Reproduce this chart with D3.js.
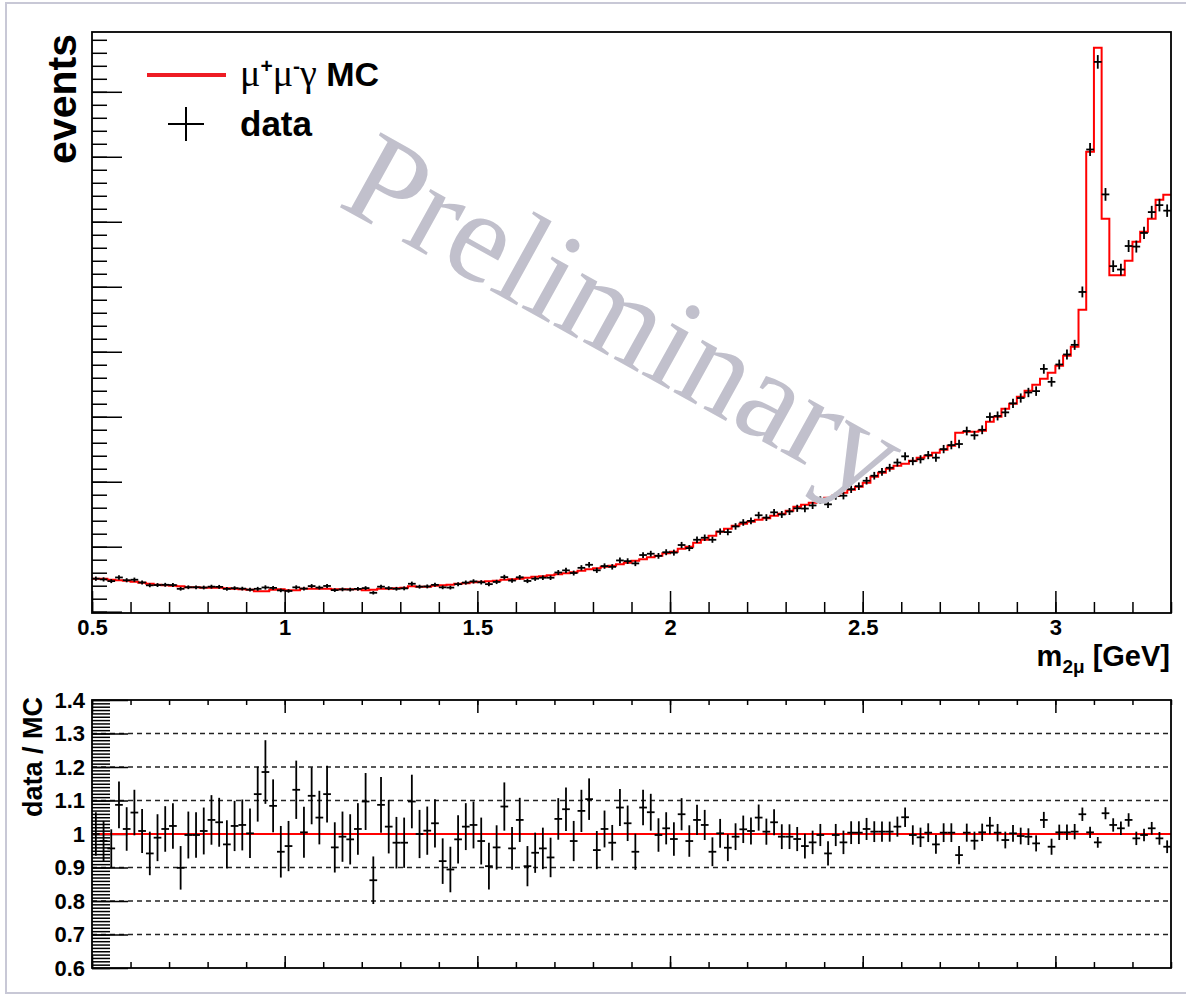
<!DOCTYPE html>
<html>
<head>
<meta charset="utf-8">
<script src="https://cdn.jsdelivr.net/npm/d3@7"></script>
<style>
  body { margin: 0; background: #fff; }
  text { font-family: "Liberation Sans", Arial, sans-serif; font-weight: bold; }
</style>
</head>
<body>
<script>
// m(2mu) histogram, 140 bins of 0.02 GeV from 0.5 to 3.3 GeV
var massRange = [0.5, 3.3];
var binWidth = 0.02;

var mcEvents = [
  508, 508, 492, 485, 477, 462, 446, 431, 415, 408,
  400, 392, 377, 377, 369, 369, 369, 362, 354, 346,
  338, 315, 315, 338, 346, 331, 331, 354, 354, 354,
  354, 346, 346, 346, 346, 331, 338, 354, 354, 362,
  369, 392, 385, 385, 400, 408, 415, 431, 438, 454,
  462, 469, 477, 492, 500, 508, 523, 538, 546, 562,
  577, 592, 608, 631, 654, 669, 692, 708, 731, 754,
  785, 808, 838, 862, 900, 923, 969, 1000, 1062, 1108,
  1169, 1231, 1277, 1323, 1354, 1385, 1415, 1438, 1477, 1508,
  1554, 1615, 1646, 1677, 1723, 1754, 1785, 1831, 1877, 1923,
  1985, 2077, 2138, 2200, 2246, 2277, 2323, 2369, 2400, 2446,
  2492, 2554, 2754, 2769, 2769, 2785, 2923, 3000, 3123, 3200,
  3308, 3400, 3492, 3585, 3677, 3785, 3938, 4077, 4646, 7077,
  8677, 6046, 5177, 5177, 5400, 5692, 5846, 6046, 6338, 6415
];

var dataEvents = [
  508, 497, 471, 527, 484, 492, 450, 406, 410, 414,
  410, 352, 376, 376, 372, 385, 382, 351, 362, 355,
  339, 352, 373, 366, 328, 319, 375, 356, 394, 371,
  396, 332, 343, 340, 351, 363, 291, 385, 362, 353,
  359, 430, 385, 389, 413, 375, 371, 424, 448, 466,
  452, 424, 458, 532, 479, 529, 473, 508, 523, 523,
  603, 636, 595, 675, 722, 637, 702, 690, 789, 778,
  743, 872, 892, 859, 915, 909, 1026, 979, 1107, 1138,
  1107, 1233, 1225, 1312, 1373, 1397, 1484, 1448, 1529, 1496,
  1542, 1591, 1587, 1635, 1718, 1652, 1780, 1785, 1885, 1931,
  2015, 2092, 2153, 2215, 2295, 2391, 2316, 2345, 2410, 2370,
  2502, 2564, 2580, 2780, 2714, 2799, 2996, 3012, 3067, 3206,
  3288, 3373, 3394, 3736, 3537, 3804, 3958, 4106, 4920, 7112,
  8460, 6421, 5317, 5265, 5627, 5618, 5828, 6149, 6256, 6171
];

var dataErr = [
  33, 32, 31, 34, 32, 33, 31, 30, 30, 30,
  30, 28, 29, 29, 29, 30, 30, 28, 29, 29,
  28, 30, 33, 30, 28, 27, 31, 29, 31, 30,
  32, 28, 29, 29, 29, 30, 26, 31, 30, 29,
  30, 33, 30, 30, 31, 29, 29, 31, 32, 33,
  33, 32, 33, 36, 33, 35, 33, 34, 35, 35,
  38, 40, 38, 41, 43, 40, 42, 42, 45, 44,
  42, 44, 45, 44, 46, 46, 48, 47, 49, 50,
  47, 49, 49, 50, 51, 51, 53, 52, 53, 53,
  54, 55, 55, 55, 57, 56, 57, 57, 58, 58,
  58, 59, 60, 60, 61, 62, 62, 63, 63, 64,
  64, 65, 66, 67, 67, 68, 69, 69, 70, 71,
  71, 72, 73, 74, 74, 75, 76, 77, 84, 100,
  105, 98, 90, 90, 92, 92, 94, 96, 97, 96
];

var ratio = [
  1.000, 0.979, 0.957, 1.087, 1.015, 1.064, 1.009, 0.942, 0.989, 1.015,
  1.024, 0.899, 0.997, 0.997, 1.009, 1.042, 1.035, 0.969, 1.024, 1.027,
  1.002, 1.119, 1.185, 1.084, 0.947, 0.964, 1.132, 1.005, 1.114, 1.049,
  1.119, 0.960, 0.992, 0.984, 1.015, 1.097, 0.862, 1.087, 1.022, 0.974,
  0.974, 1.097, 1.000, 1.010, 1.032, 0.919, 0.894, 0.984, 1.022, 1.027,
  0.979, 0.904, 0.960, 1.082, 0.957, 1.042, 0.904, 0.944, 0.957, 0.930,
  1.045, 1.074, 0.979, 1.069, 1.104, 0.952, 1.015, 0.974, 1.079, 1.032,
  0.947, 1.079, 1.065, 0.997, 1.017, 0.985, 1.059, 0.979, 1.042, 1.027,
  0.947, 1.002, 0.959, 0.992, 1.014, 1.009, 1.049, 1.007, 1.035, 0.992,
  0.992, 0.985, 0.964, 0.975, 0.997, 0.942, 0.997, 0.975, 1.004, 1.004,
  1.015, 1.007, 1.007, 1.007, 1.022, 1.050, 0.997, 0.990, 1.004, 0.969,
  1.004, 1.004, 0.937, 1.004, 0.980, 1.005, 1.025, 1.004, 0.982, 1.002,
  0.994, 0.992, 0.972, 1.042, 0.962, 1.005, 1.005, 1.007, 1.059, 1.005,
  0.975, 1.062, 1.027, 1.017, 1.042, 0.987, 0.997, 1.017, 0.987, 0.962
];

var ratioErr = [
  .065, .060, .057, .070, .065, .068, .066, .065, .070, .068,
  .068, .065, .070, .068, .070, .074, .073, .072, .075, .076,
  .074, .082, .095, .079, .077, .075, .087, .076, .085, .080,
  .085, .075, .075, .075, .077, .085, .071, .083, .080, .077,
  .075, .080, .072, .072, .072, .068, .068, .072, .070, .070,
  .070, .070, .066, .072, .064, .066, .060, .060, .062, .059,
  .062, .065, .060, .063, .062, .057, .055, .053, .055, .053,
  .054, .053, .055, .050, .048, .050, .048, .047, .045, .045,
  .043, .043, .040, .040, .041, .040, .039, .039, .039, .037,
  .037, .036, .037, .035, .033, .036, .033, .035, .034, .034,
  .033, .031, .030, .030, .030, .029, .029, .029, .028, .028,
  .028, .028, .027, .027, .027, .026, .026, .026, .025, .025,
  .025, .025, .024, .024, .024, .023, .023, .023, .020, .017,
  .016, .018, .020, .020, .020, .020, .019, .019, .019, .019
];

var xTickValues = [0.5, 1, 1.5, 2, 2.5, 3];
var xTickLabels = ["0.5", "1", "1.5", "2", "2.5", "3"];
var ratioTickValues = [0.6, 0.7, 0.8, 0.9, 1.0, 1.1, 1.2, 1.3, 1.4];
var ratioTickLabels = ["0.6", "0.7", "0.8", "0.9", "1", "1.1", "1.2", "1.3", "1.4"];
var ratioGrid = [0.7, 0.8, 0.9, 1.0, 1.1, 1.2, 1.3];

var width = 1186, height = 998;

var svg = d3.select("body").append("svg")
    .attr("width", width)
    .attr("height", height);

// light page border
svg.append("rect")
    .attr("x", 6).attr("y", 3)
    .attr("width", 1200).attr("height", 990)
    .attr("fill", "none")
    .attr("stroke", "#c8c8d6")
    .attr("stroke-width", 2);

var binEdges = d3.range(mcEvents.length + 1).map(function (i) { return massRange[0] + i * binWidth; });

var x = d3.scaleLinear().domain(massRange).range([92, 1171]);
var yTop = d3.scaleLinear().domain([-20, 8920]).range([613, 32]);
var yRat = d3.scaleLinear().domain([0.6, 1.4]).range([968, 700]);

function styleAxis(g) {
    g.select(".domain").remove();
    g.selectAll(".tick line").attr("stroke", "#000").attr("stroke-width", 1.5);
    g.selectAll("text")
        .attr("fill", "#000")
        .attr("font-family", "Liberation Sans, Arial, sans-serif")
        .attr("font-weight", "bold")
        .attr("font-size", 22);
}

// ---------- top panel ----------
var topG = svg.append("g");

topG.append("g").attr("transform", "translate(0,613)")
    .call(d3.axisBottom(x).tickValues(d3.range(0.5, 3.301, 0.1)).tickSize(-11).tickFormat(""))
    .call(styleAxis);
topG.append("g").attr("transform", "translate(0,613)")
    .call(d3.axisBottom(x).tickValues(xTickValues).tickSize(-22).tickPadding(6)
        .tickFormat(function (d, i) { return xTickLabels[i]; }))
    .call(styleAxis);

topG.append("g").attr("transform", "translate(92,0)")
    .call(d3.axisLeft(yTop).tickValues(d3.range(0, 8801, 200)).tickSize(-15).tickFormat(""))
    .call(styleAxis);
topG.append("g").attr("transform", "translate(92,0)")
    .call(d3.axisLeft(yTop).tickValues(d3.range(0, 8001, 1000)).tickSize(-30).tickFormat(""))
    .call(styleAxis);

// MC histogram
var step = d3.line().curve(d3.curveStepAfter);
var mcPts = binEdges.map(function (e, i) {
    return [x(e), yTop(mcEvents[Math.min(i, mcEvents.length - 1)])];
});
topG.append("path")
    .attr("d", step(mcPts))
    .attr("fill", "none")
    .attr("stroke", "#ff0000")
    .attr("stroke-width", 2);

// data points
var dataG = topG.append("g").attr("stroke", "#000").attr("stroke-width", 1.8);
dataEvents.forEach(function (d, i) {
    var cx = x((binEdges[i] + binEdges[i + 1]) / 2);
    dataG.append("line")
        .attr("x1", x(binEdges[i])).attr("x2", x(binEdges[i + 1]))
        .attr("y1", yTop(d)).attr("y2", yTop(d));
    dataG.append("line")
        .attr("x1", cx).attr("x2", cx)
        .attr("y1", yTop(d + dataErr[i])).attr("y2", yTop(d - dataErr[i]));
});

// watermark
topG.append("text")
    .attr("transform", "translate(336,205) rotate(29)")
    .attr("font-size", 130)
    .attr("fill", "#c1c0cc")
    .style("font-weight", "normal")
    .style("font-family", "'Liberation Serif', serif")
    .text("Preliminary");

topG.append("rect")
    .attr("x", 92).attr("y", 32)
    .attr("width", 1171 - 92).attr("height", 613 - 32)
    .attr("fill", "none").attr("stroke", "#000").attr("stroke-width", 1.8);

// axis titles
topG.append("text")
    .attr("transform", "translate(76,34) rotate(-90)")
    .attr("text-anchor", "end")
    .attr("font-size", 41)
    .text("events");

var xt = topG.append("text")
    .attr("x", 1170).attr("y", 666)
    .attr("text-anchor", "end")
    .attr("font-size", 29);
xt.append("tspan").text("m");
xt.append("tspan").attr("dy", 7).attr("font-size", 19).text("2\u03bc");
xt.append("tspan").attr("dy", -7).text(" [GeV]");

// legend
topG.append("line")
    .attr("x1", 147).attr("x2", 226).attr("y1", 75).attr("y2", 75)
    .attr("stroke", "#ee1c24").attr("stroke-width", 4);
var lt = topG.append("text").attr("x", 240).attr("y", 86).attr("font-size", 34);
lt.append("tspan").attr("font-size", 38).style("font-family", "'Liberation Serif', serif").style("font-weight", "normal").text("\u03bc");
lt.append("tspan").attr("dy", -13).attr("font-size", 21).text("+");
lt.append("tspan").attr("dy", 13).attr("font-size", 38).style("font-family", "'Liberation Serif', serif").style("font-weight", "normal").text("\u03bc");
lt.append("tspan").attr("dy", -13).attr("font-size", 21).text("-");
lt.append("tspan").attr("dy", 13).attr("font-size", 38).style("font-family", "'Liberation Serif', serif").style("font-weight", "normal").text("\u03b3");
lt.append("tspan").text(" MC");

topG.append("line").attr("x1", 168).attr("x2", 204).attr("y1", 124).attr("y2", 124)
    .attr("stroke", "#000").attr("stroke-width", 2);
topG.append("line").attr("x1", 186).attr("x2", 186).attr("y1", 107).attr("y2", 141)
    .attr("stroke", "#000").attr("stroke-width", 2);
topG.append("text").attr("x", 240).attr("y", 136).attr("font-size", 35).text("data");

// ---------- ratio panel ----------
var botG = svg.append("g");

botG.selectAll(".grid").data(ratioGrid).enter().append("line")
    .attr("x1", 92).attr("x2", 1171)
    .attr("y1", function (d) { return yRat(d); })
    .attr("y2", function (d) { return yRat(d); })
    .attr("stroke", "#222").attr("stroke-width", 1.3)
    .attr("stroke-dasharray", "5,4");

botG.append("g").attr("transform", "translate(92,0)")
    .call(d3.axisLeft(yRat).tickValues(d3.range(0.6, 1.4001, 0.01)).tickSize(-18).tickFormat(""))
    .call(styleAxis);
botG.append("g").attr("transform", "translate(92,0)")
    .call(d3.axisLeft(yRat).tickValues(ratioTickValues).tickSize(-36).tickPadding(7)
        .tickFormat(function (d, i) { return ratioTickLabels[i]; }))
    .call(styleAxis);

botG.append("g").attr("transform", "translate(0,968)")
    .call(d3.axisBottom(x).tickValues(d3.range(0.5, 3.301, 0.1)).tickSize(-6).tickFormat(""))
    .call(styleAxis);
botG.append("g").attr("transform", "translate(0,968)")
    .call(d3.axisBottom(x).tickValues(xTickValues).tickSize(-12).tickFormat(""))
    .call(styleAxis);
botG.append("g").attr("transform", "translate(0,700)")
    .call(d3.axisTop(x).tickValues(d3.range(0.5, 3.301, 0.1)).tickSize(-5).tickFormat(""))
    .call(styleAxis);
botG.append("g").attr("transform", "translate(0,700)")
    .call(d3.axisTop(x).tickValues(xTickValues).tickSize(-13).tickFormat(""))
    .call(styleAxis);

botG.append("line")
    .attr("x1", 92).attr("x2", 1171)
    .attr("y1", yRat(1)).attr("y2", yRat(1))
    .attr("stroke", "#ff0000").attr("stroke-width", 2);

var ratG = botG.append("g").attr("stroke", "#000").attr("stroke-width", 1.8);
ratio.forEach(function (r, i) {
    var cx = x((binEdges[i] + binEdges[i + 1]) / 2);
    ratG.append("line")
        .attr("x1", x(binEdges[i])).attr("x2", x(binEdges[i + 1]))
        .attr("y1", yRat(r)).attr("y2", yRat(r));
    ratG.append("line")
        .attr("x1", cx).attr("x2", cx)
        .attr("y1", yRat(r + ratioErr[i])).attr("y2", yRat(r - ratioErr[i]));
});

botG.append("rect")
    .attr("x", 92).attr("y", 700)
    .attr("width", 1171 - 92).attr("height", 968 - 700)
    .attr("fill", "none").attr("stroke", "#000").attr("stroke-width", 1.8);

botG.append("text")
    .attr("transform", "translate(42,697) rotate(-90)")
    .attr("text-anchor", "end")
    .attr("font-size", 27)
    .text("data / MC");
</script>
</body>
</html>
